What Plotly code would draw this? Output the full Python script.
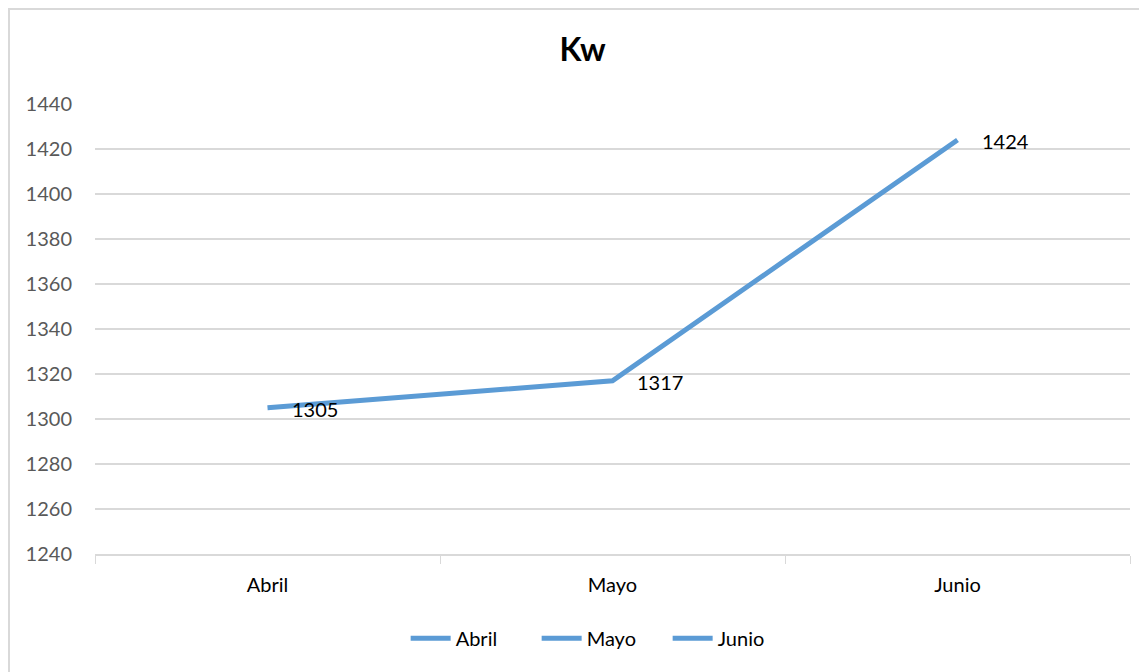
import plotly.graph_objects as go

months = ["Abril", "Mayo", "Junio"]
kw = [1305, 1317, 1424]
legend_names = ["Abril", "Mayo", "Junio"]
y_ticks = [1240, 1260, 1280, 1300, 1320, 1340, 1360, 1380, 1400, 1420, 1440]

BLUE = "#5B9BD5"
FONT = "Lato, Calibri, Carlito, sans-serif"

fig = go.Figure()
fig.add_trace(go.Scatter(
    x=months, y=kw, mode="lines", name=legend_names[0],
    line=dict(color=BLUE, width=5), showlegend=True, hoverinfo="x+y",
))
for nm in legend_names[1:]:
    fig.add_trace(go.Scatter(
        x=[months[0]], y=[None], mode="lines", name=nm,
        line=dict(color=BLUE, width=5), showlegend=True,
    ))

for m, v in zip(months, kw):
    fig.add_annotation(
        x=m, y=v, text=str(v), showarrow=False, xanchor="left", yanchor="middle",
        xshift=22, yshift=-1, font=dict(family=FONT, size=20, color="#000000"),
    )

fig.update_layout(
    width=1147, height=672,
    margin=dict(l=87, r=25, t=96, b=126),
    paper_bgcolor="white", plot_bgcolor="white",
    title=dict(text="<b>Kw</b>", x=0.501, xanchor="center", y=0.9375, yanchor="middle",
               font=dict(family=FONT, size=32, color="#000000")),
    font=dict(family=FONT, size=20, color="#595959"),
    legend=dict(orientation="h", x=0.49, xanchor="center", y=-0.187, yanchor="middle",
                font=dict(family=FONT, size=20, color="#000000"), itemwidth=40,
                entrywidth=76, traceorder="normal"),
    showlegend=True,
)
fig.update_xaxes(
    type="category", range=[-0.5, 2.5], showgrid=False,
    showline=True, linecolor="#D9D9D9", linewidth=1.5,
    ticks="outside", tickson="boundaries", ticklen=8, tickcolor="#D9D9D9",
    tickfont=dict(family=FONT, size=20, color="#000000"), fixedrange=True,
    ticklabelstandoff=12,
)
fig.update_yaxes(
    range=[1240, 1440], tickvals=y_ticks, showgrid=True, gridcolor="#D9D9D9",
    gridwidth=1.5, zeroline=False, showline=False, ticks="",
    tickfont=dict(family=FONT, size=20, color="#595959"), ticklabelstandoff=22,
)
fig.add_shape(type="rect", xref="paper", yref="paper",
              x0=-0.0831, x1=1.03, y0=-0.3, y1=1.2111,
              line=dict(color="#D9D9D9", width=2), fillcolor="rgba(0,0,0,0)", layer="below")

fig.write_html("out.html")
